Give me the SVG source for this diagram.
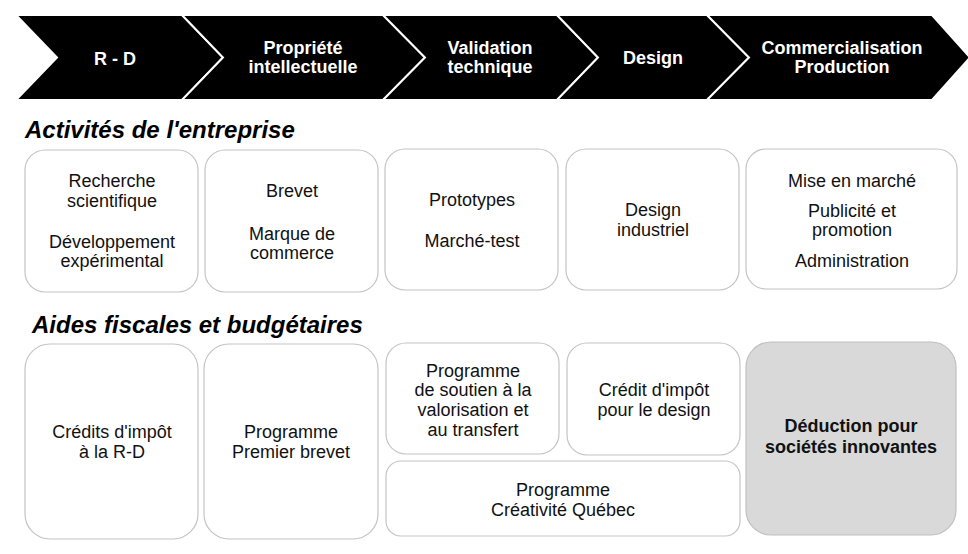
<svg xmlns="http://www.w3.org/2000/svg" width="968" height="554" viewBox="0 0 968 554">
<style>
.chev{fill:#000;stroke:#fff;stroke-width:2;stroke-linejoin:miter}
.ct{font-family:"Liberation Sans",Arial,sans-serif;font-weight:bold;font-size:18px;fill:#fff;text-anchor:middle}
.box{fill:#fff;stroke:#c4c4c4;stroke-width:1.2}
.gbox{fill:#d9d9d9;stroke:#c0c0c0;stroke-width:1.2}
.t{font-family:"Liberation Sans",Arial,sans-serif;font-size:18px;fill:#111;text-anchor:middle}
.tb{font-family:"Liberation Sans",Arial,sans-serif;font-weight:bold;font-size:18px;fill:#111;text-anchor:middle}
.title{font-family:"Liberation Sans",Arial,sans-serif;font-weight:bold;font-style:italic;font-size:24px;fill:#000}
</style>
<rect width="968" height="554" fill="#fff"/>
<g id="chevrons">
<g id="step-rd">
<polygon class="chev" points="16,15 182,15 223,57.5 182,100 16,100 57,57.5"/>
<text class="ct" x="115" y="65">R - D</text>
</g>
<g id="step-pi">
<polygon class="chev" points="182,15 383,15 425,57.5 383,100 182,100 223,57.5"/>
<text class="ct" x="303" y="54">Propriété</text>
<text class="ct" x="303" y="73">intellectuelle</text>
</g>
<g id="step-validation">
<polygon class="chev" points="383,15 557,15 598,57.5 557,100 383,100 425,57.5"/>
<text class="ct" x="490" y="54">Validation</text>
<text class="ct" x="490" y="73">technique</text>
</g>
<g id="step-design">
<polygon class="chev" points="557,15 707,15 749,57.5 707,100 557,100 598,57.5"/>
<text class="ct" x="653" y="64">Design</text>
</g>
<g id="step-commercialisation">
<polygon class="chev" points="707,15 932,15 970,57.5 932,100 707,100 749,57.5"/>
<text class="ct" x="842" y="54">Commercialisation</text>
<text class="ct" x="842" y="73">Production</text>
</g>
</g>
<g id="connectors"></g>
<text class="title" x="25" y="138">Activités de l'entreprise</text>
<g id="act-rd">
<rect class="box" x="25" y="150" width="173" height="142" rx="20"/>
<text class="t" x="112" y="187">Recherche</text>
<text class="t" x="112" y="207">scientifique</text>
<text class="t" x="112" y="248">Développement</text>
<text class="t" x="112" y="267">expérimental</text>
</g>
<g id="act-pi">
<rect class="box" x="205" y="150" width="173" height="142" rx="20"/>
<text class="t" x="292" y="197">Brevet</text>
<text class="t" x="292" y="240">Marque de</text>
<text class="t" x="292" y="259">commerce</text>
</g>
<g id="act-validation">
<rect class="box" x="385" y="149" width="173" height="141" rx="20"/>
<text class="t" x="472" y="206">Prototypes</text>
<text class="t" x="472" y="247">Marché-test</text>
</g>
<g id="act-design">
<rect class="box" x="566" y="149" width="173" height="141" rx="20"/>
<text class="t" x="653" y="216">Design</text>
<text class="t" x="653" y="236">industriel</text>
</g>
<g id="act-commercialisation">
<rect class="box" x="746" y="149" width="211" height="140" rx="20"/>
<text class="t" x="852" y="187">Mise en marché</text>
<text class="t" x="852" y="217">Publicité et</text>
<text class="t" x="852" y="236">promotion</text>
<text class="t" x="852" y="267">Administration</text>
</g>
<text class="title" x="32" y="333">Aides fiscales et budgétaires</text>
<g id="aide-credit-rd">
<rect class="box" x="25" y="344" width="173" height="195" rx="25"/>
<text class="t" x="112" y="438">Crédits d'impôt</text>
<text class="t" x="112" y="458">à la R-D</text>
</g>
<g id="aide-premier-brevet">
<rect class="box" x="204" y="344" width="174" height="195" rx="25"/>
<text class="t" x="291" y="438">Programme</text>
<text class="t" x="291" y="458">Premier brevet</text>
</g>
<g id="aide-valorisation">
<rect class="box" x="386" y="343" width="173" height="111" rx="20"/>
<text class="t" x="473" y="377">Programme</text>
<text class="t" x="473" y="396">de soutien à la</text>
<text class="t" x="473" y="416">valorisation et</text>
<text class="t" x="473" y="436">au transfert</text>
</g>
<g id="aide-credit-design">
<rect class="box" x="567" y="343" width="173" height="112" rx="20"/>
<text class="t" x="654" y="396">Crédit d'impôt</text>
<text class="t" x="654" y="416">pour le design</text>
</g>
<g id="aide-creativite">
<rect class="box" x="386" y="461" width="354" height="75" rx="15"/>
<text class="t" x="563" y="496">Programme</text>
<text class="t" x="563" y="516">Créativité Québec</text>
</g>
<g id="aide-deduction">
<rect class="gbox" x="746" y="342" width="210" height="193" rx="25"/>
<text class="tb" x="851" y="432">Déduction pour</text>
<text class="tb" x="851" y="453">sociétés innovantes</text>
</g>
</svg>
